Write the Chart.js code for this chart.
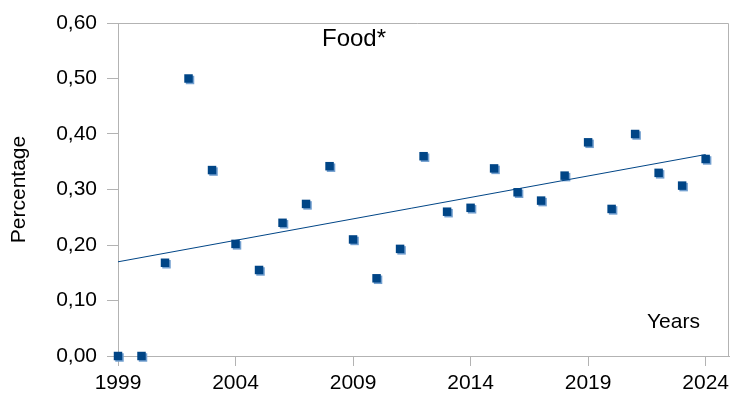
<!DOCTYPE html>
<html>
<head>
<meta charset="utf-8">
<script src="https://cdn.jsdelivr.net/npm/chart.js@4/dist/chart.umd.min.js"></script>
<style>
  html, body { margin: 0; padding: 0; background: #fff; }
  #wrap { width: 734px; height: 396px; }
</style>
</head>
<body>
<div id="wrap"><canvas id="c" width="734" height="396"></canvas></div>
<script>
// Share of food, by year
const years = [1999, 2000, 2001, 2002, 2003, 2004, 2005, 2006, 2007, 2008, 2009, 2010, 2011,
               2012, 2013, 2014, 2015, 2016, 2017, 2018, 2019, 2020, 2021, 2022, 2023, 2024];
const values = [0.00, 0.00, 0.168, 0.50, 0.335, 0.202, 0.155, 0.24, 0.274, 0.342, 0.21, 0.14, 0.193,
                0.36, 0.26, 0.267, 0.338, 0.295, 0.28, 0.325, 0.385, 0.265, 0.40, 0.33, 0.307, 0.355];
const xTicks = [1999, 2004, 2009, 2014, 2019, 2024];
const yTicks = [0, 0.1, 0.2, 0.3, 0.4, 0.5, 0.6];

// Least-squares trend line over the series
const n = years.length;
const mx = years.reduce((a, b) => a + b, 0) / n;
const my = values.reduce((a, b) => a + b, 0) / n;
let sxy = 0, sxx = 0;
for (let i = 0; i < n; i++) { sxy += (years[i] - mx) * (values[i] - my); sxx += (years[i] - mx) ** 2; }
const slope = sxy / sxx;
const icpt = my - slope * mx;
const trend = [years[0], years[n - 1]].map(x => ({ x, y: icpt + slope * x }));

const blue = '#004586';
const axisGrey = '#b3b3b3';
const FONT = '"Liberation Sans", Arial, sans-serif';

const extras = {
  id: 'extras',
  beforeDatasetDraw(chart, args) {
    if (args.index === 1) {
      const ctx = chart.ctx;
      ctx.save();
      ctx.shadowColor = '#729fcf';
      ctx.shadowOffsetX = 1.5;
      ctx.shadowOffsetY = 1.5;
      ctx.shadowBlur = 0;
    }
  },
  afterDatasetDraw(chart, args) {
    if (args.index === 1) chart.ctx.restore();
  },
  afterDraw(chart) {
    const ctx = chart.ctx;
    const a = chart.chartArea;
    ctx.save();
    ctx.strokeStyle = axisGrey;
    ctx.lineWidth = 1;
    ctx.beginPath();
    ctx.moveTo(a.left - 11, Math.round(a.top) + 0.5);
    ctx.lineTo(Math.round(a.right) - 0.5, Math.round(a.top) + 0.5);
    ctx.lineTo(Math.round(a.right) - 0.5, a.bottom);
    ctx.stroke();
    ctx.fillStyle = '#000';
    ctx.textAlign = 'left';
    ctx.textBaseline = 'alphabetic';
    ctx.font = '24px ' + FONT;
    ctx.fillText('Food*', 322, 46);
    ctx.font = '21px ' + FONT;
    ctx.fillText('Years', 647, 328);
    ctx.restore();
  }
};

new Chart(document.getElementById('c'), {
  type: 'scatter',
  data: {
    datasets: [
      {
        type: 'line',
        data: trend,
        borderColor: blue,
        borderWidth: 1,
        pointRadius: 0,
        fill: false
      },
      {
        data: years.map((x, i) => ({ x, y: values[i] })),
        clip: false,
        pointStyle: 'rect',
        pointRadius: 6,
        pointBackgroundColor: blue,
        pointBorderColor: blue,
        pointBorderWidth: 0
      }
    ]
  },
  options: {
    responsive: false,
    animation: false,
    layout: { autoPadding: false, padding: { top: 23, right: 0, left: 0, bottom: 0 } },
    plugins: { legend: { display: false }, tooltip: { enabled: false } },
    scales: {
      x: {
        type: 'linear',
        min: 1999,
        max: 2025,
        afterBuildTicks(s) { s.ticks = xTicks.map(v => ({ value: v })); },
        afterFit(s) { s.height = 40; },
        grid: { drawOnChartArea: false, tickLength: 10, color: axisGrey },
        border: { color: axisGrey },
        ticks: {
          color: '#000',
          padding: 5,
          maxRotation: 0,
          font: { family: FONT, size: 21 },
          callback: v => String(v)
        }
      },
      y: {
        min: 0,
        max: 0.6,
        afterBuildTicks(s) { s.ticks = yTicks.map(v => ({ value: v })); },
        afterFit(s) { s.width = 118; },
        grid: { drawOnChartArea: false, tickLength: 11, color: axisGrey },
        border: { color: axisGrey },
        ticks: {
          color: '#000',
          padding: 10,
          font: { family: FONT, size: 21 },
          callback: v => v.toFixed(2).replace('.', ',')
        },
        title: {
          display: true,
          text: 'Percentage',
          color: '#000',
          padding: { top: 7, bottom: 0 },
          font: { family: FONT, size: 21 }
        }
      }
    }
  },
  plugins: [extras]
});
</script>
</body>
</html>
